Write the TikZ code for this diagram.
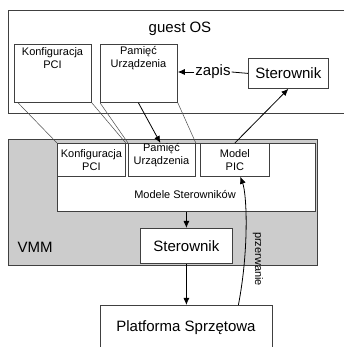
\documentclass[tikz,border=0pt]{standalone}
\usepackage{fontspec}
\setmainfont{Liberation Sans}
\usetikzlibrary{arrows.meta}
\begin{document}
\begin{tikzpicture}[x=1pt,y=-1pt,
  box/.style={draw=black!75, line width=0.8pt, fill=white, inner sep=0pt, anchor=north west},
  big/.style={font=\fontsize{15}{17}\selectfont},
  small/.style={font=\fontsize{11}{13}\selectfont, align=center, inner sep=0pt},
  link/.style={draw=black!70, line width=0.5pt},
  arr/.style={draw=black, line width=0.8pt, -{Latex[length=7pt,width=6pt]}}
]
\useasboundingbox (0,0) rectangle (349,347);

% guest OS frame, open on the right
\draw[black!75, line width=0.8pt] (344,10) -- (8,10) -- (8,113) -- (344,113);
\node[big] (guest) at (180,29) {guest OS};

% guest-side boxes
\node[box, minimum width=77pt, minimum height=58pt] (gkonf) at (14,44) {};
\node[small] (gkonftxt) at (52.5,58.5) {Konfiguracja\\PCI};
\node[box, minimum width=77pt, minimum height=58pt] (gpam) at (100,44) {};
\node[small] (gpamtxt) at (138.5,58.5) {Pamięć\\Urządzenia};
\node[box, big, minimum width=80pt, minimum height=30pt] (gster) at (248,58) {Sterownik};
\node[big, inner sep=1pt] (zapis) at (213,72) {zapis};

% VMM area
\node[box, fill=gray!40, minimum width=309pt, minimum height=126pt] (vmm) at (8,139) {};
\node[big] (vmmtxt) at (35,247) {VMM};
\node[box, minimum width=258pt, minimum height=68pt] (modele) at (57,143) {};
\node[small] (modeletxt) at (185,195) {Modele Sterowników};
\node[box, small, minimum width=68pt, minimum height=33pt] (vkonf) at (57,143) {Konfiguracja\\PCI};
\node[box, minimum width=67pt, minimum height=33pt] (vpam) at (128,143) {};
\node[small] (vpamtxt) at (161.5,155.5) {Pamięć\\Urządzenia};
\node[box, small, minimum width=69pt, minimum height=33pt] (pic) at (200,143) {Model\\PIC};
\node[box, big, minimum width=92pt, minimum height=35pt] (vster) at (140,228) {Sterownik};

% hardware
\node[box, minimum width=172pt, minimum height=55pt] (plat) at (100,305) {};
\node[big] (plattxt) at (186,328) {Platforma Sprzętowa};

% mapping lines between guest view and device models
\draw[link] ([xshift=4pt]gkonf.south west) -- (vkonf.north west);
\draw[link] (gkonf.south east) -- (vkonf.north east);
\draw[link] (gpam.south west) -- (vpam.north west);
\draw[link] (gpam.south east) -- (vpam.north east);

% data flow
\draw[black, line width=0.8pt] (gster.west) -- (zapis.east);
\draw[arr] (zapis.west) -- (gpam.east |- zapis.west);
\draw[arr] ([xshift=-0.5pt]gpam.south) -- ([xshift=-1.5pt]vpam.north);
\draw[arr] (pic.north) -- (gster.south);
\draw[arr] (modele.south) -- (vster.north);
\draw[arr] (vster.south) -- (plat.north);
\draw[arr] ([xshift=52pt]plat.north) .. controls (249,250) and (247,195) .. ([xshift=5.5pt]pic.south);
\node[small, rotate=-90] (przerwanie) at (258,259) {przerwanie};
\end{tikzpicture}
\end{document}
